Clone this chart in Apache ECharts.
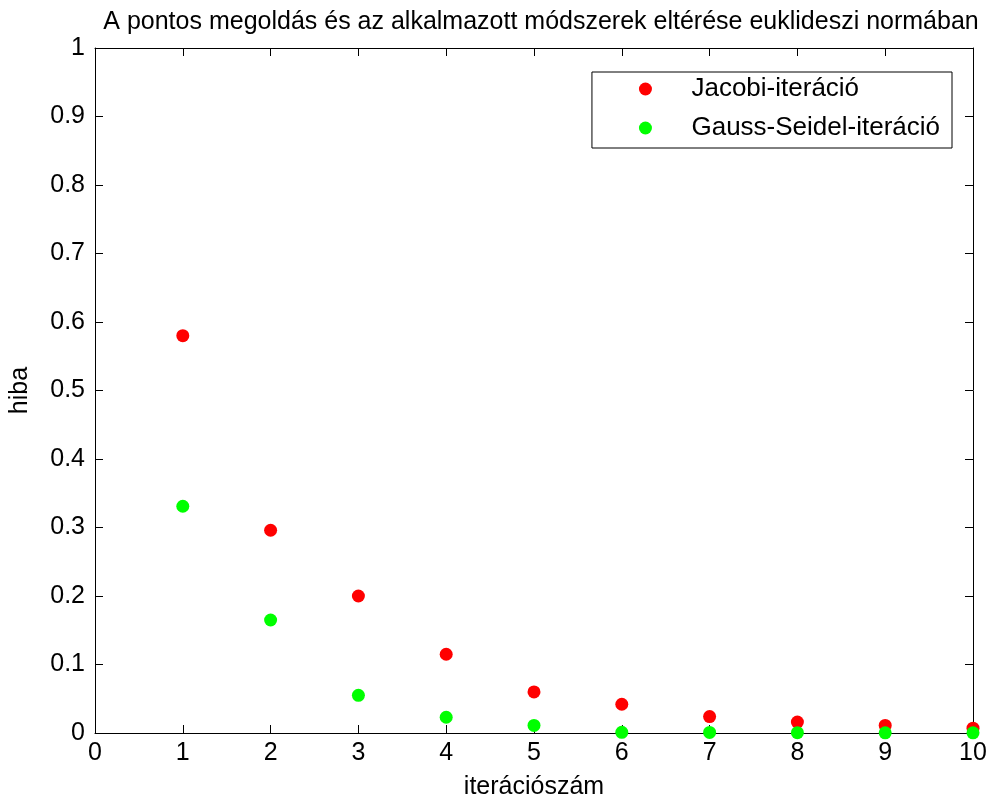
<!DOCTYPE html>
<html><head><meta charset="utf-8">
<script src="https://cdn.jsdelivr.net/npm/echarts@6/dist/echarts.min.js"></script>
<style>html,body{margin:0;padding:0;background:#fff}#c{width:994px;height:805px}</style>
</head><body><div id="c"></div>
<script>
const iterations = [1,2,3,4,5,6,7,8,9,10];
const jacobi = [0.580, 0.296, 0.200, 0.115, 0.060, 0.042, 0.024, 0.016, 0.011, 0.007];
const gaussSeidel = [0.331, 0.165, 0.055, 0.023, 0.011, 0.001, 0.0008, 0.0005, 0.0003, 0.0002];
const titleText = 'A pontos megoldás és az alkalmazott módszerek eltérése euklideszi normában';
const xName = 'iterációszám';
const yName = 'hiba';
const seriesNames = ['Jacobi-iteráció', 'Gauss-Seidel-iteráció'];

const font = 'Liberation Sans, Arial, sans-serif';
const FS = 25;
const chart = echarts.init(document.getElementById('c'));
const axLine = {show:true, onZero:false, lineStyle:{color:'#000', width:1}};
const tick = {show:true, inside:true, length:8, lineStyle:{color:'#000'}};
chart.setOption({
  animation:false,
  backgroundColor:'#fff',
  title:{text:titleText, left:536, textAlign:'center', top:5,
    textStyle:{fontFamily:font, fontSize:FS, fontWeight:'normal', color:'#000'}},
  grid:{left:95, right:21, top:48, bottom:71},
  legend:{right:42, top:72, orient:'vertical', itemGap:13, itemWidth:20, itemHeight:13,
    borderColor:'#000', borderWidth:1, padding:[4,12,7,47],
    textStyle:{fontFamily:font, fontSize:26, color:'#000', padding:[0,0,0,31]},
    data:seriesNames.map(n=>({name:n, icon:'circle'}))},
  xAxis:[
    {type:'value', min:0, max:10, interval:1, position:'bottom',
     name:xName, nameLocation:'middle', nameGap:42,
     nameTextStyle:{fontFamily:font, fontSize:FS, color:'#000'},
     axisLine:axLine, axisTick:tick, splitLine:{show:false},
     axisLabel:{fontFamily:font, fontSize:FS, color:'#000', margin:8}},
    {type:'value', min:0, max:10, interval:1, position:'top',
     axisLine:axLine, axisTick:tick, splitLine:{show:false}, axisLabel:{show:false}}
  ],
  yAxis:[
    {type:'value', min:0, max:1, interval:0.1, position:'left',
     name:yName, nameLocation:'middle', nameGap:62, nameRotate:90,
     nameTextStyle:{fontFamily:font, fontSize:FS, color:'#000'},
     axisLine:axLine, axisTick:tick, splitLine:{show:false},
     axisLabel:{fontFamily:font, fontSize:FS, color:'#000', margin:10,
       formatter:v=>String(Math.round(v*10)/10)}},
    {type:'value', min:0, max:1, interval:0.1, position:'right',
     axisLine:axLine, axisTick:tick, splitLine:{show:false}, axisLabel:{show:false}}
  ],
  series:[
    {name:seriesNames[0], type:'scatter', symbol:'circle', symbolSize:13,
     itemStyle:{color:'#ff0000', opacity:1}, data:iterations.map((x,i)=>[x,jacobi[i]]), clip:false},
    {name:seriesNames[1], type:'scatter', symbol:'circle', symbolSize:13,
     itemStyle:{color:'#00ff00', opacity:1}, data:iterations.map((x,i)=>[x,gaussSeidel[i]]), clip:false}
  ]
});
</script></body></html>
